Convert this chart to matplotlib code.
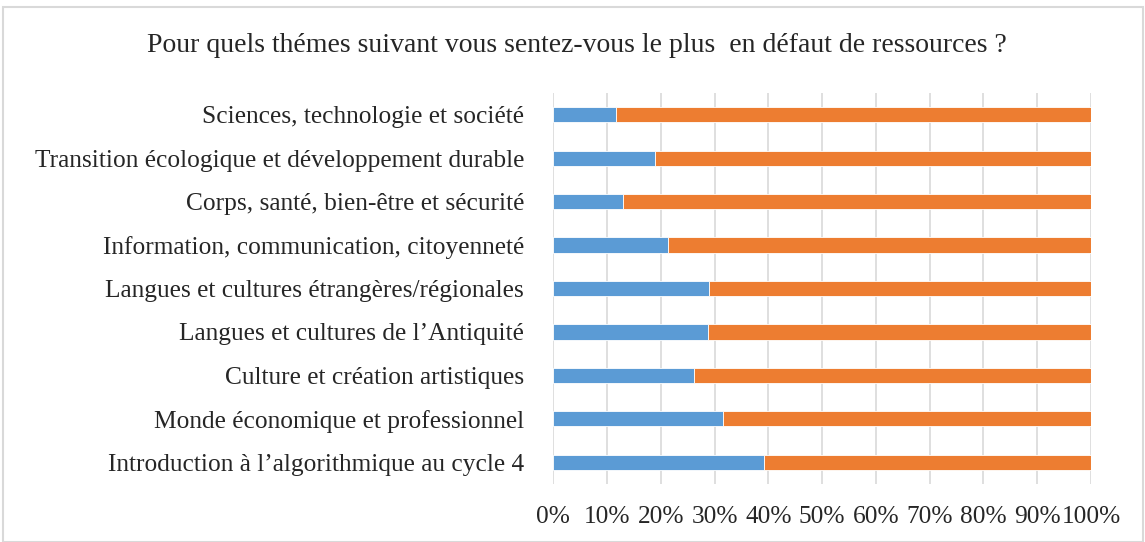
import matplotlib
matplotlib.use("Agg")
import matplotlib.pyplot as plt
from matplotlib.patches import Rectangle
from matplotlib.ticker import PercentFormatter

categories = [
    "Sciences, technologie et société",
    "Transition écologique et développement durable",
    "Corps, santé, bien-être et sécurité",
    "Information, communication, citoyenneté",
    "Langues et cultures étrangères/régionales",
    "Langues et cultures de l\u2019Antiquité",
    "Culture et création artistiques",
    "Monde économique et professionnel",
    "Introduction à l\u2019algorithmique au cycle 4",
]
blue_share = [11.7, 18.9, 12.9, 21.3, 28.9, 28.7, 26.1, 31.6, 39.2]
orange_share = [100 - v for v in blue_share]
xticks = [0, 10, 20, 30, 40, 50, 60, 70, 80, 90, 100]
title = "Pour quels thémes suivant vous sentez-vous le plus  en défaut de ressources ?"

plt.rcParams['font.family'] = ['Liberation Serif', 'DejaVu Serif']

fig = plt.figure(figsize=(11.45, 5.42), dpi=100)
fig.patches.append(Rectangle((3/1145, 0), 1 - 5/1145, 1 - 7/542, transform=fig.transFigure,
                             fill=False, edgecolor="#D9D9D9", linewidth=1.5))
ax = fig.add_axes([553.3/1145, 58/542, (1091-553.3)/1145, (484-93)/542])

y = list(range(len(categories)))[::-1]
ax.barh(y, blue_share, height=0.35, color="#5B9BD5", edgecolor="white", linewidth=0.6, zorder=3)
ax.barh(y, orange_share, left=blue_share, height=0.35, color="#ED7D31", edgecolor="white", linewidth=0.6, zorder=3)

ax.set_xlim(0, 100)
ax.set_ylim(-0.5, len(categories) - 0.5)
ax.set_xticks(xticks)
ax.xaxis.set_major_formatter(PercentFormatter(decimals=0))
ax.set_yticks(y)
ax.set_yticklabels(categories)
ax.grid(axis="x", color="#D9D9D9", linewidth=1.2, zorder=0)
for s in ax.spines.values():
    s.set_visible(False)
ax.tick_params(axis="both", length=0, labelsize=18.3, colors="#262626")
ax.tick_params(axis="x", pad=16)
ax.tick_params(axis="y", pad=21)

fig.text(577/1145, 1 - 46/542, title, ha="center", va="center", fontsize=20, color="#262626")

fig.savefig("out.png", dpi=100)
